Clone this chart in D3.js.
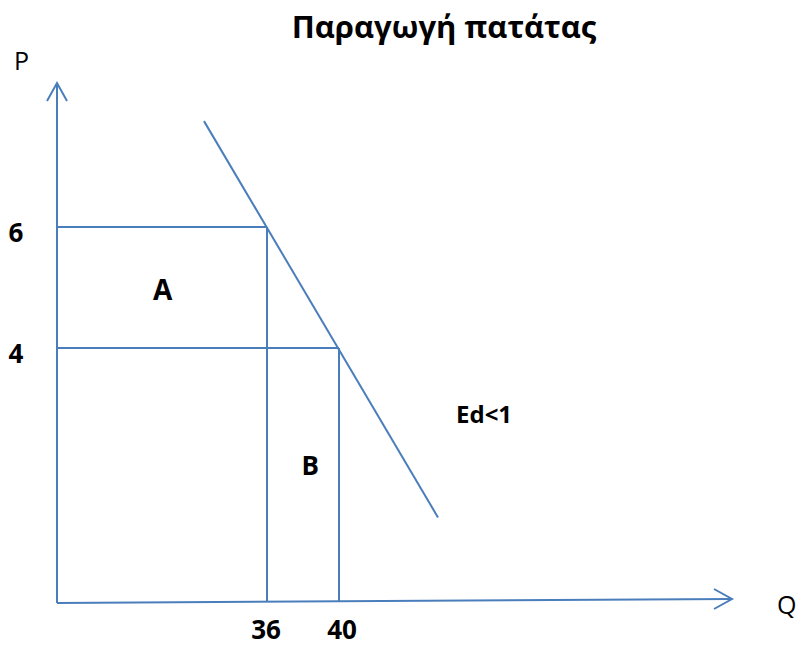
<!DOCTYPE html>
<html>
<head>
<meta charset="utf-8">
<script src="https://cdnjs.cloudflare.com/ajax/libs/d3/7.8.5/d3.min.js"></script>
<style>
  body { margin: 0; background: #fff; }
  text { font-family: "Open Sans", "Liberation Sans", sans-serif; fill: #000; }
  .b { font-weight: bold; }
</style>
</head>
<body>
<div id="chart"></div>
<script>
// price / quantity points
var prices = [6, 4];
var quantities = [36, 40];
// demand curve end points (Q, P)
var demandQ = [32.5, 45.5];
var demandP = [7.75, 1.2];
var areaLabels = ["A", "B"];
var areaQ = [30.2, 38.4];       // label positions in data units
var areaP = [4.8, 1.9];
var title = "Παραγωγή πατάτας";
var elasticityLabel = "Ed<1";

var width = 798, height = 646;
var blue = "#4a7ebb";

var svg = d3.select("#chart").append("svg")
    .attr("width", width)
    .attr("height", height);

// scales fitted on the two points
var x = d3.scaleLinear().domain([36, 40]).range([267, 339]);
var y = d3.scaleLinear().domain([4, 6]).range([348, 227]);

// axes (origin and ends of the drawn frame)
var ox = 57, oy = 603, xEnd = 732, xEndY = 599, yTop = 83;
function axisY(px) { return oy + (px - ox) * (xEndY - oy) / (xEnd - ox); }

var g = svg.append("g").attr("stroke", blue).attr("stroke-width", 2).attr("fill", "none");

// y axis with arrow
g.append("line").attr("x1", ox).attr("y1", oy).attr("x2", ox).attr("y2", yTop);
g.append("path").attr("d", "M" + (ox - 10) + "," + (yTop + 18) + "L" + ox + "," + yTop + "L" + (ox + 10) + "," + (yTop + 18));

// x axis with arrow
g.append("line").attr("x1", ox).attr("y1", oy).attr("x2", xEnd).attr("y2", xEndY);
g.append("path").attr("d", "M" + (xEnd - 18) + "," + (xEndY - 10) + "L" + xEnd + "," + xEndY + "L" + (xEnd - 18) + "," + (xEndY + 10));

// horizontal guides to the price axis
g.selectAll(".h").data(prices).enter().append("line")
    .attr("x1", ox)
    .attr("y1", function(d) { return y(d); })
    .attr("x2", function(d, i) { return x(quantities[i]); })
    .attr("y2", function(d) { return y(d); });

// vertical guides down to the quantity axis
g.selectAll(".v").data(quantities).enter().append("line")
    .attr("x1", function(d) { return x(d); })
    .attr("y1", function(d, i) { return y(prices[i]); })
    .attr("x2", function(d) { return x(d); })
    .attr("y2", function(d) { return axisY(x(d)); });

// demand line
var demand = demandQ.map(function(q, i) { return [q, demandP[i]]; });
g.append("path")
    .datum(demand)
    .attr("d", d3.line().x(function(d) { return x(d[0]); }).y(function(d) { return y(d[1]); }));

// title
svg.append("text").attr("class", "b")
    .attr("x", 444).attr("y", 38)
    .attr("text-anchor", "middle")
    .style("font-size", "31px")
    .text(title);

// axis names
svg.append("text").attr("x", 14).attr("y", 70).style("font-size", "25px").text("P");
svg.append("text").attr("x", 777).attr("y", 614).style("font-size", "25px").text("Q");

// price tick labels
svg.selectAll(".pl").data(prices).enter().append("text").attr("class", "b")
    .attr("x", 16).attr("y", function(d) { return y(d) + 15; })
    .attr("text-anchor", "middle")
    .style("font-size", "26px")
    .text(function(d) { return d; });

// quantity tick labels
svg.selectAll(".ql").data(quantities).enter().append("text").attr("class", "b")
    .attr("x", function(d, i) { return x(d) + (i === 0 ? -1 : 3); })
    .attr("y", 639)
    .attr("text-anchor", "middle")
    .style("font-size", "26px")
    .text(function(d) { return d; });

// area labels
svg.selectAll(".al").data(areaLabels).enter().append("text").attr("class", "b")
    .attr("x", function(d, i) { return x(areaQ[i]); })
    .attr("y", function(d, i) { return y(areaP[i]); })
    .attr("text-anchor", "middle")
    .style("font-size", function(d, i) { return i === 0 ? "28px" : "26px"; })
    .text(function(d) { return d; });

svg.append("text").attr("class", "b")
    .attr("x", 456).attr("y", 423)
    .style("font-size", "24px")
    .text(elasticityLabel);
</script>
</body>
</html>
